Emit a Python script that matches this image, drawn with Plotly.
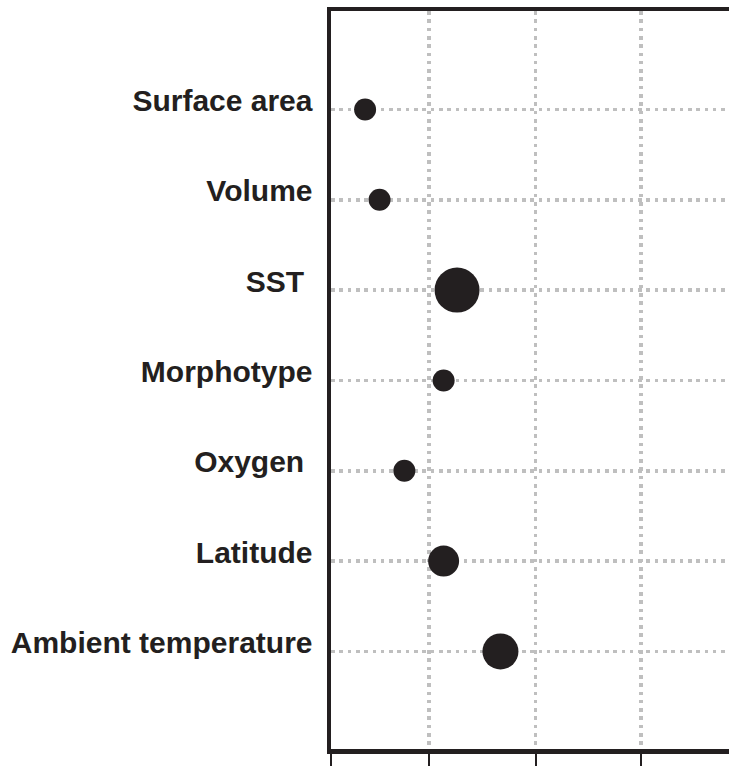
import plotly.graph_objects as go

# ---- data ----
categories = ["Surface area", "Volume", "SST\u00a0", "Morphotype", "Oxygen\u00a0", "Latitude", "Ambient temperature"]
importance = [0.33, 0.47, 1.22, 1.09, 0.71, 1.09, 1.64]
weights = [22, 22, 45, 22, 22, 31, 36]
x_tickvals = [0, 0.95, 1.98, 3]

INK = "#231f20"
GRID = "#bfbfbf"
GRID_DASH = "3.6px,4.7px"

fig = go.Figure(
    go.Scatter(
        x=importance,
        y=categories,
        mode="markers",
        marker=dict(size=weights, color=INK, line=dict(width=0), opacity=1),
        hoverinfo="skip",
        showlegend=False,
    )
)

fig.update_layout(
    width=729,
    height=766,
    margin=dict(l=331, r=0, t=11, b=17, pad=0),
    paper_bgcolor="white",
    plot_bgcolor="white",
    font=dict(family="Liberation Sans, Arial, sans-serif", color=INK),
)

fig.update_xaxes(
    range=[0, 3.852],
    tickvals=x_tickvals,
    showticklabels=False,
    ticks="outside",
    ticklen=14,
    tickwidth=2,
    tickcolor=INK,
    showline=True,
    linewidth=4.5,
    linecolor=INK,
    mirror=True,
    showgrid=True,
    gridcolor=GRID,
    gridwidth=3.6,
    griddash=GRID_DASH,
    zeroline=False,
)

fig.update_yaxes(
    type="category",
    categoryorder="array",
    categoryarray=categories,
    range=[7.08, -1.09],
    showline=True,
    linewidth=4.5,
    linecolor=INK,
    mirror=False,
    ticks="",
    showgrid=True,
    gridcolor=GRID,
    gridwidth=3.6,
    griddash=GRID_DASH,
    zeroline=False,
    tickfont=dict(family="Liberation Sans, Arial, sans-serif", size=30, color=INK, weight="bold"),
    ticklabelstandoff=8,
    ticklabelshift=9,
)

fig.write_html(
    "out.html",
    config={"displayModeBar": False, "staticPlot": True},
    post_script="document.body.style.margin='0';document.body.style.overflow='hidden';",
)
